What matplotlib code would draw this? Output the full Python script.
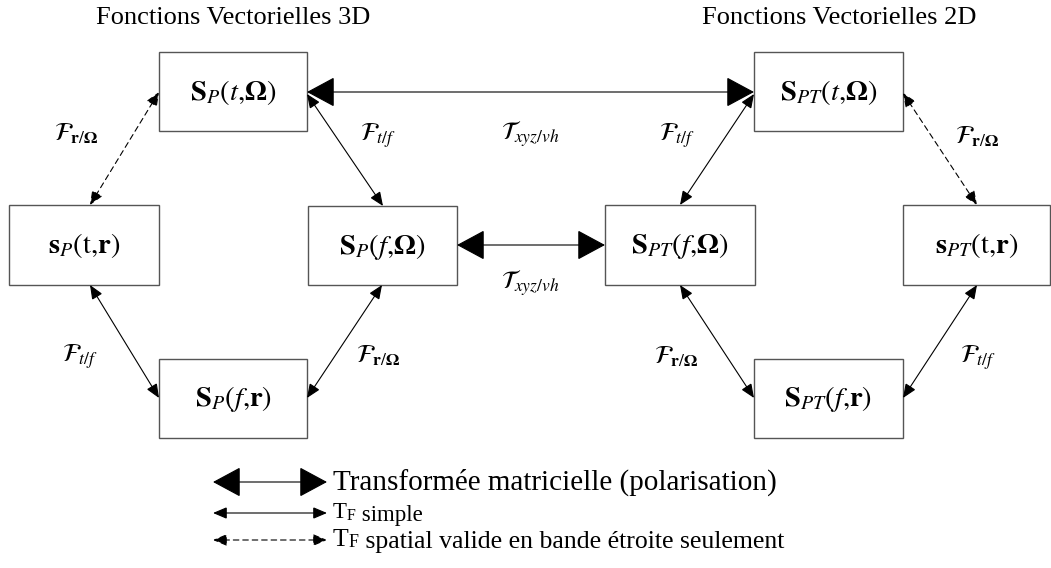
import matplotlib
matplotlib.use("Agg")
import matplotlib.pyplot as plt
from matplotlib.patches import Rectangle, FancyArrowPatch

plt.rcParams['font.family'] = ['Liberation Serif', 'DejaVu Serif']
plt.rcParams['mathtext.fontset'] = 'stix'

# ---- content ----
titles = ["Fonctions Vectorielles 3D", "Fonctions Vectorielles 2D"]
box_labels = [
    r"$\mathbf{S}_{P}(t{,}\mathbf{\Omega})$",
    r"$\mathbf{s}_{P}(\mathrm{t}{,}\mathbf{r})$",
    r"$\mathbf{S}_{P}(f{,}\mathbf{\Omega})$",
    r"$\mathbf{S}_{P}(f{,}\mathbf{r})$",
    r"$\mathbf{S}_{PT}(t{,}\mathbf{\Omega})$",
    r"$\mathbf{S}_{PT}(f{,}\mathbf{\Omega})$",
    r"$\mathbf{s}_{PT}(\mathrm{t}{,}\mathbf{r})$",
    r"$\mathbf{S}_{PT}(f{,}\mathbf{r})$",
]
F_tf = r"$\mathcal{F}_{t/f}$"
F_rO = r"$\mathcal{F}_{\mathbf{r}/\mathbf{\Omega}}$"
T_xyz = r"$\mathcal{T}_{xyz/vh}$"
edge_labels = [F_rO, F_tf, T_xyz, F_tf, F_rO, T_xyz, F_tf, F_rO, F_rO, F_tf]
legend_labels = ["Transformée matricielle (polarisation)",
                 " simple",
                 " spatial valide en bande étroite seulement"]

# ---- layout (pixel coordinates of the 1051x568 canvas) ----
box_rects = [
    (159, 52, 307, 131),
    (9, 205, 159, 285),
    (308, 206, 457, 285),
    (159, 359, 307, 438),
    (754, 52, 903, 131),
    (605, 205, 755, 285),
    (903, 205, 1050, 285),
    (754, 359, 903, 438),
]
title_pos = [(233, 18), (839, 18)]
# (start, end, kind) kind: 'big', 'small', 'dash'
arrows = [
    ((307, 92), (754, 92), 'big'),
    ((457, 245), (605, 245), 'big'),
    ((307, 94), (383, 206), 'small'),
    ((754, 94), (680, 205), 'small'),
    ((90, 205), (159, 92), 'dash'),
    ((903, 93), (977, 205), 'dash'),
    ((90, 285), (159, 398), 'small'),
    ((307, 398), (382, 285), 'small'),
    ((680, 285), (754, 398), 'small'),
    ((903, 398), (977, 285), 'small'),
]
edge_label_pos = [(76, 134), (378, 136), (530, 134), (677, 136), (977, 137),
                  (530, 283), (80, 357), (378, 356), (676, 357), (978, 358)]
legend_y = [482, 513, 540]
legend_kinds = ['big', 'small', 'dash']
legend_x0, legend_x1, legend_tx = 213, 327, 333

fig = plt.figure(figsize=(10.51, 5.68), dpi=100)
ax = fig.add_axes([0, 0, 1, 1])
ax.set_xlim(0, 1051)
ax.set_ylim(568, 0)
ax.axis('off')

def draw_arrow(p0, p1, kind):
    if kind == 'big':
        style = "<|-|>,head_length=18,head_width=9.7"
        ls = '-'
    else:
        style = "<|-|>,head_length=8.5,head_width=3.6"
        ls = '-' if kind == 'small' else (0, (5, 3.5))
    a = FancyArrowPatch(p0, p1, arrowstyle=style, mutation_scale=1,
                        shrinkA=0, shrinkB=0, color='black', lw=0.8,
                        linestyle=ls, joinstyle='miter')
    ax.add_patch(a)

for (x0, y0, x1, y1), lab in zip(box_rects, box_labels):
    ax.add_patch(Rectangle((x0, y0), x1 - x0, y1 - y0, fill=False,
                           edgecolor='#555555', lw=1.0))
    ax.text((x0 + x1) / 2, (y0 + y1) / 2 + 1, lab, fontsize=20.5,
            ha='center', va='center')

for (x, y), t in zip(title_pos, titles):
    ax.text(x, y, t, fontsize=19, ha='center', va='center')

for p0, p1, k in arrows:
    draw_arrow(p0, p1, k)

for (x, y), t in zip(edge_label_pos, edge_labels):
    ax.text(x, y, t, fontsize=18, ha='center', va='center')

for y, k in zip(legend_y, legend_kinds):
    draw_arrow((legend_x0, y), (legend_x1, y), k)

ax.text(legend_tx, legend_y[0], legend_labels[0], fontsize=21,
        ha='left', va='center')
for y, lab, fs in zip(legend_y[1:], legend_labels[1:], [16.5, 18.5]):
    tt = ax.text(legend_tx, y, "T", fontsize=fs, ha='left', va='center')
    ff = ax.annotate("F", xy=(1, 0), xycoords=tt, fontsize=fs * 0.7,
                     ha='left', va='bottom')
    ax.annotate(lab, xy=(1, 0), xycoords=ff, fontsize=fs,
                ha='left', va='bottom', xytext=(0, -1.5), textcoords='offset points')

fig.savefig("out.png", dpi=100)
